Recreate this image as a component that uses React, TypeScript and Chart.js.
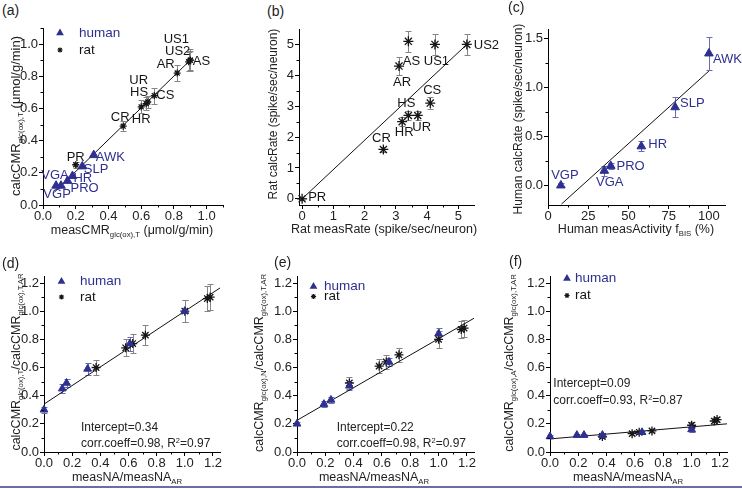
import React, { useEffect, useRef } from 'react';
import { Chart, registerables } from 'chart.js';

Chart.register(...registerables);

const FONT = '"Liberation Sans", Arial, Helvetica, sans-serif';
const BLUE = '#2e3090';
const INK = '#151515';
const ERR_GRAY = '#858585';
const ERR_BLUE = '#6a6cb4';

// ---------------- panel (a) ----------------
const aHumanNames = ['VGP', 'VGA', 'PRO', 'HR', 'SLP', 'AWK'];
const aHumanX = [0.08, 0.11, 0.15, 0.18, 0.24, 0.31];
const aHumanY = [0.12, 0.12, 0.15, 0.18, 0.24, 0.31];
const aHumanErr = [0, 0, 0, 0, 0, 0];
const aRatNames = ['PR', 'CR', 'HR', 'HS', 'UR', 'CS', 'AR', 'US1', 'US2', 'AS'];
const aRatX = [0.2, 0.49, 0.6, 0.63, 0.64, 0.68, 0.82, 0.9, 0.89, 0.9];
const aRatY = [0.25, 0.49, 0.61, 0.63, 0.64, 0.68, 0.82, 0.9, 0.89, 0.9];
const aRatErr = [0.02, 0.03, 0.04, 0.04, 0.04, 0.05, 0.05, 0.07, 0.06, 0.06];
const aFitX = [0.07, 0.91];
const aFitY = [0.08, 0.91];

// ---------------- panel (b) ----------------
const bNames = ['PR', 'CR', 'HR', 'HS', 'UR', 'CS', 'AR', 'AS', 'US1', 'US2'];
const bX = [0, 2.6, 3.2, 3.4, 3.7, 4.1, 3.1, 3.4, 4.25, 5.27];
const bY = [0, 1.6, 2.5, 2.7, 2.7, 3.1, 4.3, 5.1, 5.0, 5.0];
const bErr = [0.03, 0.08, 0.15, 0.15, 0.15, 0.2, 0.28, 0.35, 0.33, 0.35];
const bFitX = [0, 5.27];
const bFitY = [0, 5.0];

// ---------------- panel (c) ----------------
const cNames = ['VGP', 'VGA', 'PRO', 'HR', 'SLP', 'AWK'];
const cX = [8, 35, 39, 58, 79, 100];
const cY = [0.0, 0.15, 0.2, 0.4, 0.8, 1.35];
const cErr = [0.02, 0.05, 0.03, 0.05, 0.1, 0.17];
const cFitX = [8.4, 100];
const cFitY = [-0.19, 1.17];

// ---------------- panel (d) ----------------
const dHumanX = [0, 0.13, 0.16, 0.31, 0.61, 1.0];
const dHumanY = [0.3, 0.45, 0.49, 0.59, 0.77, 1.0];
const dHumanErr = [0.02, 0.03, 0.03, 0.04, 0.05, 0.08];
const dRatX = [0.37, 0.58, 0.63, 0.72, 1.0, 1.16, 1.18];
const dRatY = [0.6, 0.74, 0.77, 0.83, 1.0, 1.09, 1.1];
const dRatErr = [0.05, 0.06, 0.07, 0.07, 0.08, 0.09, 0.09];
const dFitX = [0, 1.25];
const dFitY = [0.34, 1.165];

// ---------------- panel (e) ----------------
const eHumanX = [0, 0.19, 0.24, 0.37, 0.65, 1.0];
const eHumanY = [0.2, 0.34, 0.37, 0.47, 0.64, 0.84];
const eHumanErr = [0.01, 0.02, 0.02, 0.03, 0.03, 0.04];
const eRatX = [0.37, 0.58, 0.63, 0.72, 1.0, 1.16, 1.18];
const eRatY = [0.49, 0.61, 0.64, 0.69, 0.8, 0.87, 0.88];
const eRatErr = [0.04, 0.05, 0.05, 0.05, 0.06, 0.06, 0.06];
const eFitX = [0, 1.25];
const eFitY = [0.225, 0.95];

// ---------------- panel (f) ----------------
const fHumanX = [0, 0.19, 0.24, 0.37, 0.65, 1.0];
const fHumanY = [0.11, 0.12, 0.12, 0.12, 0.14, 0.16];
const fHumanErr = [0.01, 0.01, 0.01, 0.01, 0.01, 0.02];
const fRatX = [0.37, 0.58, 0.63, 0.72, 1.0, 1.16, 1.18];
const fRatY = [0.11, 0.13, 0.14, 0.15, 0.19, 0.22, 0.23];
const fRatErr = [0.01, 0.01, 0.01, 0.01, 0.02, 0.02, 0.02];
const fFitX = [0, 1.25];
const fFitY = [0.093, 0.2];

// ---------------- ticks ----------------
const tickA = [0, 0.2, 0.4, 0.6, 0.8, 1.0];
const minorA = [0.1, 0.3, 0.5, 0.7, 0.9, 1.1];
const tickB = [0, 1, 2, 3, 4, 5];
const minorB = [0.5, 1.5, 2.5, 3.5, 4.5];
const tickCx = [0, 25, 50, 75, 100];
const minorCx = [12.5, 37.5, 62.5, 87.5];
const tickCy = [0, 0.5, 1.0, 1.5];
const minorCy = [0.25, 0.75, 1.25];
const tickNA = [0, 0.2, 0.4, 0.6, 0.8, 1.0, 1.2];
const minorNA = [0.1, 0.3, 0.5, 0.7, 0.9, 1.1];

// ---------------- layout ----------------
type Align = 'left' | 'center' | 'right';
type LabelPos = [number, number, Align];

// label placement relative to each point (dx, dy, align)
const aHumanLabelPos: LabelPos[] = [[1, 9, 'center'], [-6, -10, 'center'], [3, 8, 'left'], [1, 2, 'left'], [1.5, 3.5, 'left'], [2, 2.5, 'left']];
const aRatLabelPos: LabelPos[] = [[0, -7, 'center'], [-3, -8.5, 'center'], [0, 12.5, 'center'], [-7, -11, 'center'], [-9, -22, 'center'], [2, 0, 'left'], [-11.5, -8.7, 'center'], [-14, -21, 'center'], [-11, -10, 'center'], [2.5, 1, 'left']];
const bLabelPos: LabelPos[] = [[6, -1.5, 'left'], [-2, -11, 'center'], [2, 11, 'center'], [-2, -12, 'center'], [4, 12, 'center'], [2, -13, 'center'], [3, 16, 'center'], [3, 20, 'center'], [1.5, 16.5, 'center'], [7, 1, 'left']];
const cLabelPos: LabelPos[] = [[4, -10.5, 'center'], [5.5, 11.3, 'center'], [5.7, 1, 'left'], [7, -2, 'left'], [5, -4, 'left'], [4, 6, 'left']];

interface SeriesCfg {
  kind: 'human' | 'rat';
  xs: number[];
  ys: number[];
  errs: number[];
  radius: number;
  names?: string[];
  labelPos?: LabelPos[];
}
interface AxisCfg { min: number; max: number; major: number[]; minor: number[]; digits: number; }
interface LegendCfg { mx: number; hy: number; ry: number; tx: number; }
interface PanelCfg {
  plot: { l: number; t: number; r: number; b: number };
  x: AxisCfg;
  y: AxisCfg;
  series: SeriesCfg[];
  fitX: number[];
  fitY: number[];
  legend?: LegendCfg;
}

const YW = 40;
const XH = 22;
const PAD = { l: 2, t: 10, r: 34, b: 2 };

const panels: PanelCfg[] = [
  {
    plot: { l: 43, t: 28, r: 223, b: 205 },
    x: { min: 0, max: 1.1, major: tickA, minor: minorA, digits: 1 },
    y: { min: 0, max: 1.1, major: tickA, minor: minorA, digits: 1 },
    series: [
      { kind: 'human', xs: aHumanX, ys: aHumanY, errs: aHumanErr, radius: 5, names: aHumanNames, labelPos: aHumanLabelPos },
      { kind: 'rat', xs: aRatX, ys: aRatY, errs: aRatErr, radius: 3.5, names: aRatNames, labelPos: aRatLabelPos },
    ],
    fitX: aFitX, fitY: aFitY,
    legend: { mx: 17, hy: 5, ry: 22, tx: 36 },
  },
  {
    plot: { l: 299, t: 29, r: 474, b: 205 },
    x: { min: -0.1, max: 5.5, major: tickB, minor: minorB, digits: 0 },
    y: { min: -0.2, max: 5.5, major: tickB, minor: minorB, digits: 0 },
    series: [
      { kind: 'rat', xs: bX, ys: bY, errs: bErr, radius: 5, names: bNames, labelPos: bLabelPos },
    ],
    fitX: bFitX, fitY: bFitY,
  },
  {
    plot: { l: 548, t: 29, r: 725, b: 205 },
    x: { min: 0, max: 110, major: tickCx, minor: minorCx, digits: 0 },
    y: { min: -0.2, max: 1.6, major: tickCy, minor: minorCy, digits: 1 },
    series: [
      { kind: 'human', xs: cX, ys: cY, errs: cErr, radius: 5, names: cNames, labelPos: cLabelPos },
    ],
    fitX: cFitX, fitY: cFitY,
  },
  {
    plot: { l: 44, t: 276, r: 220, b: 452 },
    x: { min: 0, max: 1.25, major: tickNA, minor: minorNA, digits: 1 },
    y: { min: 0, max: 1.25, major: tickNA, minor: minorNA, digits: 1 },
    series: [
      { kind: 'human', xs: dHumanX, ys: dHumanY, errs: dHumanErr, radius: 4.5 },
      { kind: 'rat', xs: dRatX, ys: dRatY, errs: dRatErr, radius: 4.5 },
    ],
    fitX: dFitX, fitY: dFitY,
    legend: { mx: 17.5, hy: 5.5, ry: 21, tx: 36 },
  },
  {
    plot: { l: 297, t: 276, r: 474, b: 452 },
    x: { min: 0, max: 1.25, major: tickNA, minor: minorNA, digits: 1 },
    y: { min: 0, max: 1.25, major: tickNA, minor: minorNA, digits: 1 },
    series: [
      { kind: 'human', xs: eHumanX, ys: eHumanY, errs: eHumanErr, radius: 4.5 },
      { kind: 'rat', xs: eRatX, ys: eRatY, errs: eRatErr, radius: 4.5 },
    ],
    fitX: eFitX, fitY: eFitY,
    legend: { mx: 16.5, hy: 10.5, ry: 20.5, tx: 27 },
  },
  {
    plot: { l: 550, t: 276, r: 727, b: 452 },
    x: { min: 0, max: 1.25, major: tickNA, minor: minorNA, digits: 1 },
    y: { min: 0, max: 1.25, major: tickNA, minor: minorNA, digits: 1 },
    series: [
      { kind: 'human', xs: fHumanX, ys: fHumanY, errs: fHumanErr, radius: 4.5 },
      { kind: 'rat', xs: fRatX, ys: fRatY, errs: fRatErr, radius: 4.5 },
    ],
    fitX: fFitX, fitY: fFitY,
    legend: { mx: 17, hy: 2.5, ry: 19.5, tx: 25 },
  },
];

function drawTriangle(ctx: CanvasRenderingContext2D, x: number, y: number, r: number) {
  ctx.beginPath();
  for (let k = 0; k < 3; k++) {
    const a = (k * 2 * Math.PI) / 3;
    const px = x + Math.sin(a) * r;
    const py = y - Math.cos(a) * r;
    if (k === 0) ctx.moveTo(px, py); else ctx.lineTo(px, py);
  }
  ctx.closePath();
  ctx.fill();
}

function drawStar(ctx: CanvasRenderingContext2D, x: number, y: number, r: number) {
  ctx.beginPath();
  for (let k = 0; k < 4; k++) {
    const a = (k * Math.PI) / 4;
    ctx.moveTo(x - Math.cos(a) * r, y - Math.sin(a) * r);
    ctx.lineTo(x + Math.cos(a) * r, y + Math.sin(a) * r);
  }
  ctx.stroke();
}

function makeOverlay(cfg: PanelCfg) {
  return {
    id: 'overlay',
    beforeDatasetsDraw(chart: any) {
      const { ctx, scales } = chart;
      const xs = scales.x;
      const ys = scales.y;
      ctx.save();
      ctx.lineWidth = 1;
      cfg.series.forEach((s) => {
        ctx.strokeStyle = s.kind === 'human' ? ERR_BLUE : ERR_GRAY;
        s.xs.forEach((xv, i) => {
          const e = s.errs[i];
          if (!e) return;
          const px = Math.round(xs.getPixelForValue(xv)) + 0.5;
          const y1 = Math.round(ys.getPixelForValue(s.ys[i] - e)) + 0.5;
          const y2 = Math.round(ys.getPixelForValue(s.ys[i] + e)) + 0.5;
          ctx.beginPath();
          ctx.moveTo(px, y1); ctx.lineTo(px, y2);
          ctx.moveTo(px - 3, y1); ctx.lineTo(px + 3, y1);
          ctx.moveTo(px - 3, y2); ctx.lineTo(px + 3, y2);
          ctx.stroke();
        });
      });
      ctx.restore();
    },
    afterDraw(chart: any) {
      const { ctx, scales, chartArea } = chart;
      const xs = scales.x;
      const ys = scales.y;
      ctx.save();
      // minor ticks
      ctx.strokeStyle = '#000';
      ctx.lineWidth = 1;
      ctx.beginPath();
      cfg.x.minor.forEach((v) => {
        const px = Math.round(xs.getPixelForValue(v)) + 0.5;
        ctx.moveTo(px, chartArea.bottom);
        ctx.lineTo(px, chartArea.bottom + 2.5);
      });
      cfg.y.minor.forEach((v) => {
        const py = Math.round(ys.getPixelForValue(v)) + 0.5;
        ctx.moveTo(chartArea.left, py);
        ctx.lineTo(chartArea.left - 2.5, py);
      });
      ctx.stroke();
      // point labels
      ctx.font = `13px ${FONT}`;
      ctx.textBaseline = 'middle';
      cfg.series.forEach((s) => {
        if (!s.names || !s.labelPos) return;
        ctx.fillStyle = s.kind === 'human' ? BLUE : INK;
        s.names.forEach((name, i) => {
          const [dx, dy, align] = s.labelPos![i];
          ctx.textAlign = align;
          ctx.fillText(name, xs.getPixelForValue(s.xs[i]) + dx, ys.getPixelForValue(s.ys[i]) + dy);
        });
      });
      // legend
      if (cfg.legend) {
        const L = cfg.legend;
        const x0 = chartArea.left;
        const y0 = chartArea.top;
        ctx.fillStyle = BLUE;
        drawTriangle(ctx, x0 + L.mx, y0 + L.hy, 4.5);
        ctx.strokeStyle = INK;
        ctx.lineWidth = 1.2;
        drawStar(ctx, x0 + L.mx, y0 + L.ry, 2.6);
        ctx.textAlign = 'left';
        ctx.font = `13.5px ${FONT}`;
        ctx.fillStyle = BLUE;
        ctx.fillText('human', x0 + L.tx, y0 + L.hy);
        ctx.fillStyle = INK;
        ctx.fillText('rat', x0 + L.tx, y0 + L.ry);
      }
      ctx.restore();
    },
  };
}

function axisOptions(a: AxisCfg, isX: boolean) {
  return {
    type: 'linear' as const,
    min: a.min,
    max: a.max,
    afterBuildTicks: (scale: any) => {
      scale.ticks = a.major.map((v) => ({ value: v }));
    },
    afterFit: (scale: any) => {
      if (isX) scale.height = XH; else scale.width = YW;
    },
    ticks: {
      callback: (v: any) => Number(v).toFixed(a.digits),
      font: { family: FONT, size: 13, lineHeight: 1 },
      color: '#222',
      padding: 1,
      autoSkip: false,
      maxRotation: 0,
    },
    grid: { drawOnChartArea: false, drawTicks: true, tickLength: 4, color: '#000', lineWidth: 1 },
    border: { display: true, color: '#000', width: 1 },
  };
}

function Panel({ cfg }: { cfg: PanelCfg }) {
  const ref = useRef<HTMLCanvasElement>(null);
  const { l, t, r, b } = cfg.plot;
  const left = l - YW - PAD.l;
  const top = t - PAD.t;
  const w = r - l + YW + PAD.l + PAD.r;
  const h = b - t + PAD.t + PAD.b + XH;

  useEffect(() => {
    const datasets: any[] = cfg.series.map((s) => ({
      data: s.xs.map((x, i) => ({ x, y: s.ys[i] })),
      pointStyle: s.kind === 'human' ? 'triangle' : 'star',
      pointRadius: s.radius,
      backgroundColor: s.kind === 'human' ? BLUE : INK,
      borderColor: s.kind === 'human' ? BLUE : INK,
      borderWidth: s.kind === 'human' ? 1 : 1.3,
      showLine: false,
      clip: false,
      order: s.kind === 'human' ? 1 : 2,
    }));
    datasets.push({
      data: cfg.fitX.map((x, i) => ({ x, y: cfg.fitY[i] })),
      showLine: true,
      borderColor: '#111',
      borderWidth: 1,
      pointRadius: 0,
      fill: false,
      clip: false,
      order: 10,
    });
    const chart = new Chart(ref.current as HTMLCanvasElement, {
      type: 'scatter',
      data: { datasets },
      options: {
        animation: false,
        responsive: false,
        maintainAspectRatio: false,
        devicePixelRatio: 1,
        events: [],
        layout: { padding: { left: PAD.l, top: PAD.t, right: PAD.r, bottom: PAD.b } },
        plugins: { legend: { display: false }, tooltip: { enabled: false } },
        scales: { x: axisOptions(cfg.x, true), y: axisOptions(cfg.y, false) },
      } as any,
      plugins: [makeOverlay(cfg)],
    });
    return () => chart.destroy();
  }, [cfg]);

  return (
    <canvas
      ref={ref}
      width={w}
      height={h}
      style={{ position: 'absolute', left, top, width: w, height: h }}
    />
  );
}

const S = ({ children }: { children: React.ReactNode }) => (
  <sub style={{ fontSize: '0.62em', verticalAlign: '-0.4em', lineHeight: 0 }}>{children}</sub>
);
const Sup = ({ children }: { children: React.ReactNode }) => (
  <sup style={{ fontSize: '0.62em', verticalAlign: '0.5em', lineHeight: 0 }}>{children}</sup>
);

function YTitle({ cx, cy, size, children }: { cx: number; cy: number; size: number; children: React.ReactNode }) {
  return (
    <div
      style={{
        position: 'absolute', left: cx, top: cy, transform: 'translate(-50%, -50%) rotate(-90deg)',
        whiteSpace: 'nowrap', font: `${size}px ${FONT}`, color: '#222', lineHeight: `${size + 2}px`,
      }}
    >
      {children}
    </div>
  );
}

function XTitle({ cx, cy, size, children }: { cx: number; cy: number; size: number; children: React.ReactNode }) {
  return (
    <div
      style={{
        position: 'absolute', left: cx, top: cy, transform: 'translate(-50%, -50%)',
        whiteSpace: 'nowrap', font: `${size}px ${FONT}`, color: '#222', lineHeight: `${size + 2}px`,
      }}
    >
      {children}
    </div>
  );
}

function TextAt({ x, cy, size, children }: { x: number; cy: number; size: number; children: React.ReactNode }) {
  return (
    <div
      style={{
        position: 'absolute', left: x, top: cy, transform: 'translateY(-50%)',
        whiteSpace: 'nowrap', font: `${size}px ${FONT}`, color: '#222', lineHeight: `${size + 2}px`,
      }}
    >
      {children}
    </div>
  );
}

const panelLetters = ['(a)', '(b)', '(c)', '(d)', '(e)', '(f)'];
const letterPos: [number, number][] = [[2, 10], [267, 11], [508, 7], [2, 262.5], [274, 262], [509, 261]];

export default function App() {
  return (
    <div style={{ position: 'absolute', left: 0, top: 0, width: 742, height: 489, background: '#fff', overflow: 'hidden' }}>
      {panels.map((p, i) => (
        <Panel key={i} cfg={p} />
      ))}
      {panelLetters.map((s, i) => (
        <TextAt key={s} x={letterPos[i][0]} cy={letterPos[i][1]} size={14}>{s}</TextAt>
      ))}

      <YTitle cx={15} cy={116} size={13}>calcCMR<S>glc(ox),T</S> (μmol/g/min)</YTitle>
      <XTitle cx={132} cy={230} size={12.5}>measCMR<S>glc(ox),T</S> (μmol/g/min)</XTitle>

      <YTitle cx={273} cy={113.5} size={12}>Rat calcRate (spike/sec/neuron)</YTitle>
      <XTitle cx={384} cy={229} size={12.5}>Rat measRate (spike/sec/neuron)</XTitle>

      <YTitle cx={518} cy={119} size={12}>Human calcRate (spike/sec/neuron)</YTitle>
      <XTitle cx={636} cy={229} size={12.5}>Human measActivity f<S>BIS</S> (%)</XTitle>

      <YTitle cx={15.5} cy={362} size={12.5}>calcCMR<S>glc(ox),T</S>/calcCMR<S>glc(ox),T,AR</S></YTitle>
      <XTitle cx={127} cy={476.5} size={12.5}>measNA/measNA<S>AR</S></XTitle>

      <YTitle cx={259} cy={363} size={12.5}>calcCMR<S>glc(ox),N</S>/calcCMR<S>glc(ox),T,AR</S></YTitle>
      <XTitle cx={374} cy={476.5} size={12.5}>measNA/measNA<S>AR</S></XTitle>

      <YTitle cx={508.5} cy={363} size={12.5}>calcCMR<S>glc(ox),A</S>/calcCMR<S>glc(ox),T,AR</S></YTitle>
      <XTitle cx={628} cy={476.5} size={12.5}>measNA/measNA<S>AR</S></XTitle>

      <TextAt x={81} cy={426.7} size={12}>Intercept=0.34</TextAt>
      <TextAt x={81} cy={443.3} size={12}>corr.coeff=0.98, R<Sup>2</Sup>=0.97</TextAt>
      <TextAt x={336.7} cy={426.7} size={12}>Intercept=0.22</TextAt>
      <TextAt x={336.7} cy={443.3} size={12}>corr.coeff=0.98, R<Sup>2</Sup>=0.97</TextAt>
      <TextAt x={553.3} cy={383.3} size={12}>Intercept=0.09</TextAt>
      <TextAt x={553.3} cy={400} size={12}>corr.coeff=0.93, R<Sup>2</Sup>=0.87</TextAt>

      <div style={{ position: 'absolute', left: 0, top: 486, width: 742, height: 2, background: '#6a6ea8' }} />
    </div>
  );
}
